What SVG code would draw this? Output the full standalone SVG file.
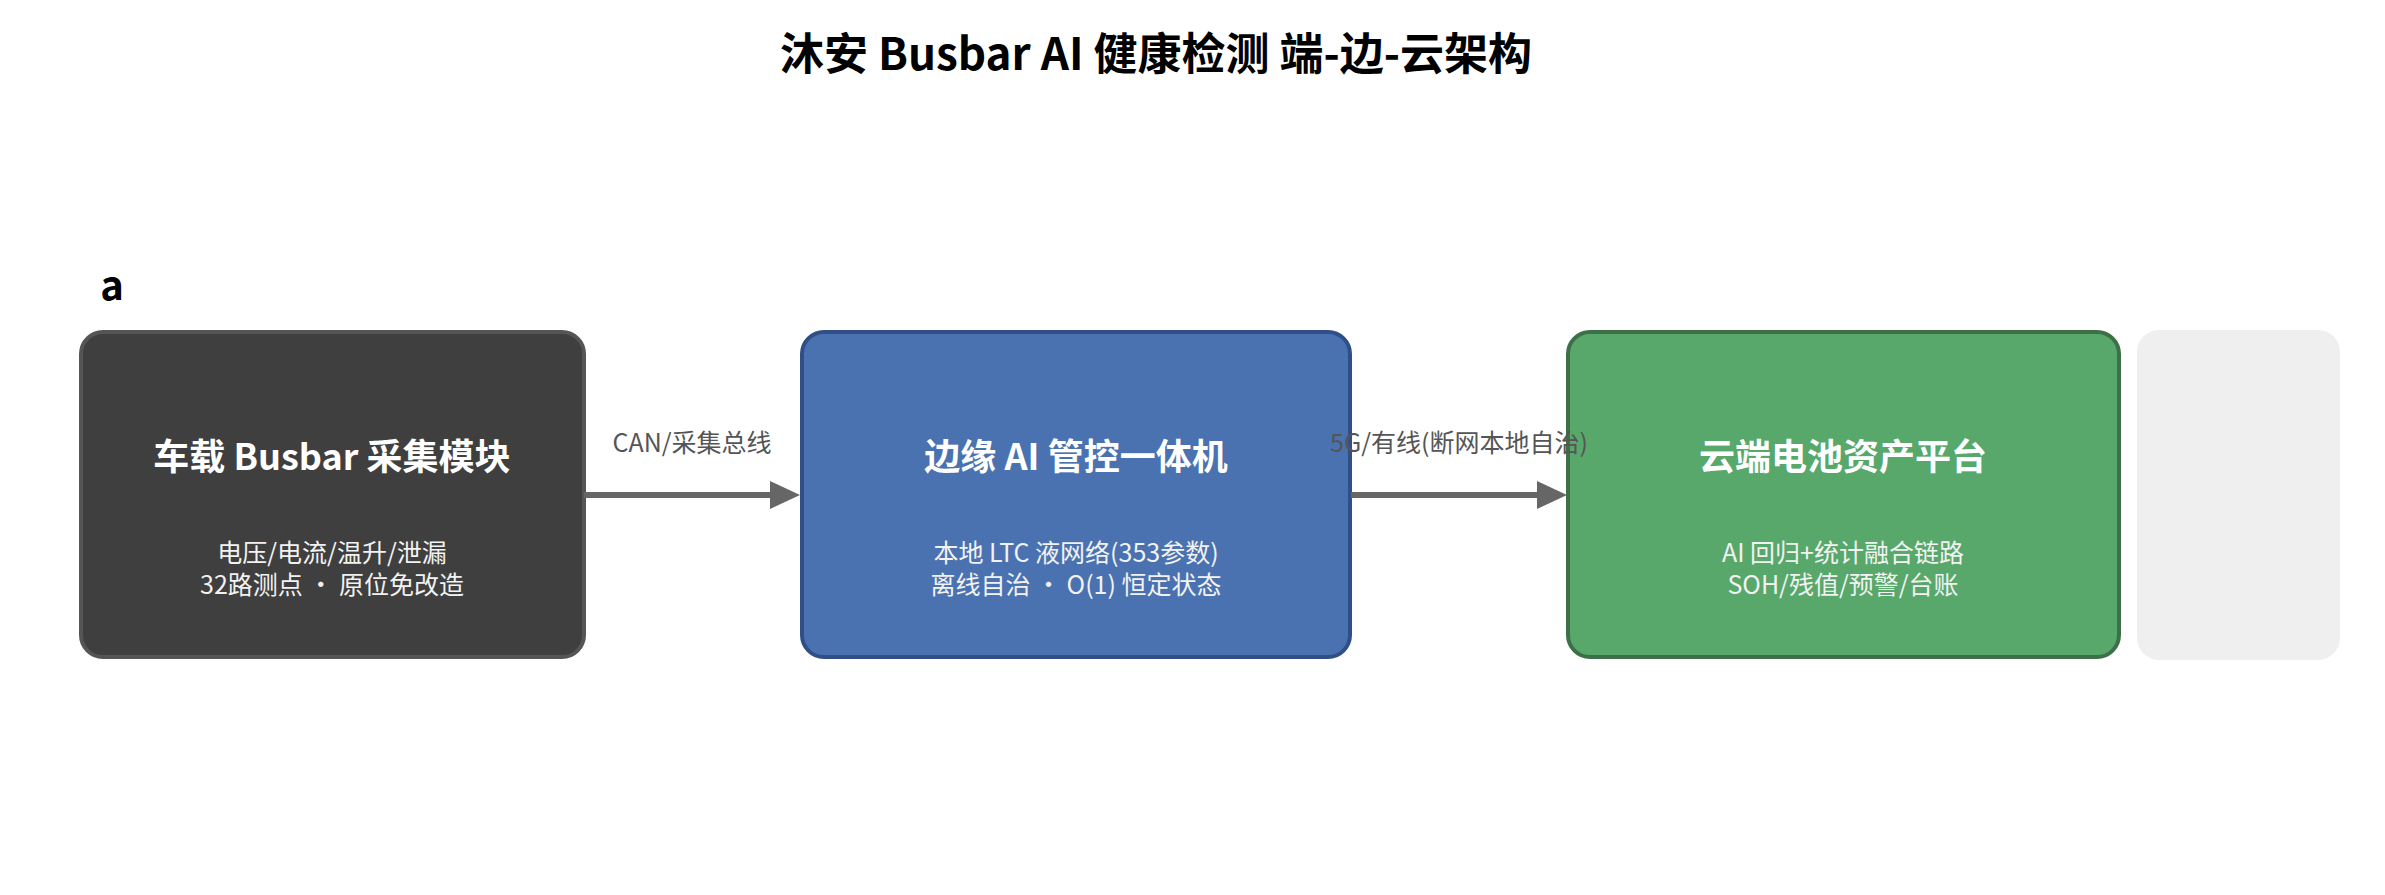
<svg xmlns="http://www.w3.org/2000/svg" width="2385" height="895" viewBox="0 0 2385 895">
<style>
text{font-family:"Noto Sans CJK SC","Noto Sans",sans-serif;text-anchor:middle}
.t{font-size:36px;font-weight:bold;fill:#fff}
.s{font-size:25px;fill:#f2f2f2}
.l{font-size:25px;fill:#555}
.c{stroke:#666;stroke-width:6;fill:none}
</style>
<defs><marker id="ah" markerWidth="10" markerHeight="10" refX="5" refY="5" orient="auto" markerUnits="userSpaceOnUse" viewBox="0 0 10 10"><path d="M0,0 L10,5 L0,10 Z" fill="#666"/></marker></defs>
<rect width="2385" height="895" fill="#fff"/>
<text x="1156" y="70" style="font-size:44px;font-weight:bold;fill:#000">沐安 Busbar AI 健康检测 端-边-云架构</text>
<text x="112" y="300" style="font-size:40px;font-weight:bold;fill:#000">a</text>
<g id="n1"><rect x="81" y="332" width="503" height="325" rx="22" fill="#3f3f3f" stroke="#555" stroke-width="4"/>
<text class="t" x="332" y="470">车载 Busbar 采集模块</text>
<text class="s" x="332" y="562">电压/电流/温升/泄漏</text><text class="s" x="332" y="594">32路测点 · 原位免改造</text></g>
<g id="n2"><rect x="802" y="332" width="548" height="325" rx="22" fill="#4a72b0" stroke="#2f4f86" stroke-width="4"/>
<text class="t" x="1076" y="470">边缘 AI 管控一体机</text>
<text class="s" x="1076" y="562">本地 LTC 液网络(353参数)</text><text class="s" x="1076" y="594">离线自治 · O(1) 恒定状态</text></g>
<g id="n3"><rect x="1568" y="332" width="551" height="325" rx="22" fill="#57a86a" stroke="#3d7049" stroke-width="4"/>
<text class="t" x="1843" y="470">云端电池资产平台</text>
<text class="s" x="1843" y="562">AI 回归+统计融合链路</text><text class="s" x="1843" y="594">SOH/残值/预警/台账</text></g>
<g id="n4"><rect x="2137" y="330" width="203" height="330" rx="22" fill="#efefef"/></g>
<g id="connectors">
<line class="c" x1="584" y1="495" x2="772" y2="495"/><path d="M770,481 L800,495 L770,509 Z" fill="#666"/>
<text class="l" x="692" y="452">CAN/采集总线</text>
<line class="c" x1="1351" y1="495" x2="1539" y2="495"/><path d="M1537,481 L1567,495 L1537,509 Z" fill="#666"/>
<text class="l" x="1459" y="452">5G/有线(断网本地自治)</text>
</g>
</svg>
